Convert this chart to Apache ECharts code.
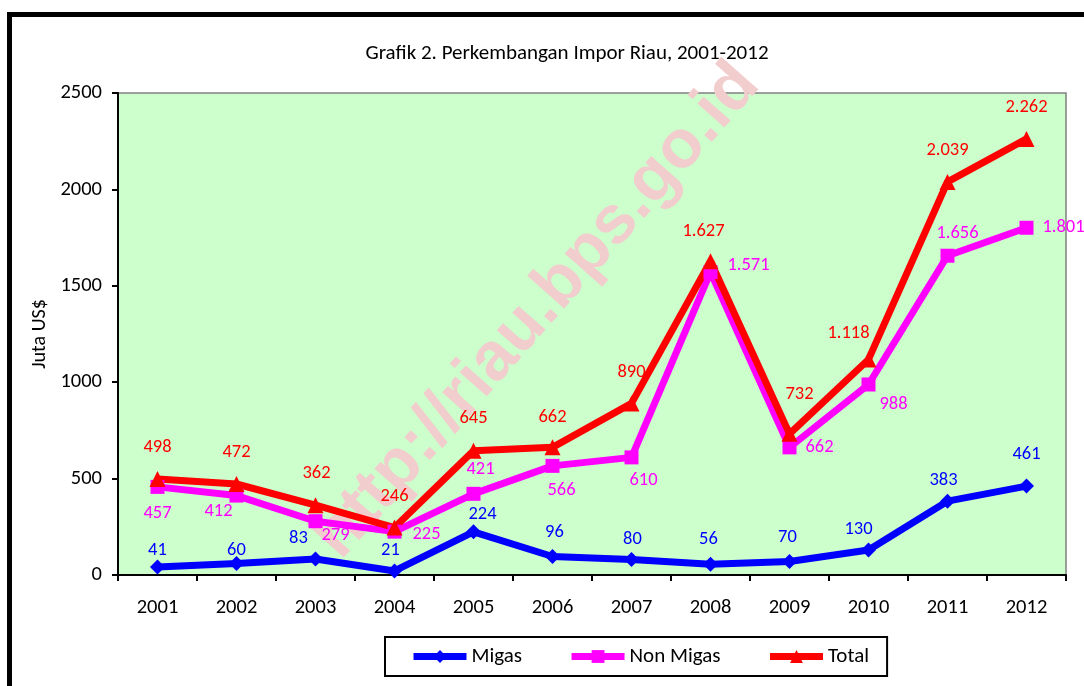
<!DOCTYPE html>
<html>
<head>
<meta charset="utf-8">
<script src="https://cdn.jsdelivr.net/npm/echarts@6/dist/echarts.min.js"></script>
<style>
html,body{margin:0;padding:0;background:#fff;}
#chart{width:1084px;height:686px;}
</style>
</head>
<body>
<div id="chart"></div>
<script>
var categories = ['2001','2002','2003','2004','2005','2006','2007','2008','2009','2010','2011','2012'];
var migas    = [41, 60, 83, 21, 224, 96, 80, 56, 70, 130, 383, 461];
var nonMigas = [457, 412, 279, 225, 421, 566, 610, 1571, 662, 988, 1656, 1801];
var total    = [498, 472, 362, 246, 645, 662, 890, 1627, 732, 1118, 2039, 2262];
var yTicks = [0, 500, 1000, 1500, 2000, 2500];

// label placement (style only)
var migasOff = [[0,-17],[0,-13],[-17,-21],[-4,-21],[9,-17],[2,-24],[1,-20],[-2,-25],[-2,-24],[-10,-21],[-4,-21],[0,-32]];
var nonOff   = [[0,26],[-18,16],[20,14],[32,3],[7,-24],[9,24],[12,23],[38,-7],[30,0],[25,20],[10,-22],[37,0]];
var totOff   = [[0,-32],[0,-32],[1,-32],[0,-31],[0,-32],[0,-30],[0,-31],[-7,-30],[10,-39],[-20,-26],[0,-32],[0,-32]];

var FONT = 'Carlito, Lato, "Open Sans", sans-serif';

function fmt(v){ return String(v).replace(/\B(?=(\d{3})+(?!\d))/g, '.'); }
function items(vals, offs){
  return vals.map(function(v,i){ return {value: v, label: {offset: offs[i]}}; });
}
function mkSeries(name, vals, offs, color, symbol, size){
  return {
    name: name, type: 'line', data: items(vals, offs),
    symbol: symbol, symbolSize: size,
    lineStyle: {color: color, width: 7},
    itemStyle: {color: color},
    label: {show: true, position: 'inside', align: 'center', verticalAlign: 'middle',
      color: color, fontSize: 18.5, fontFamily: FONT,
      formatter: function(p){ return fmt(p.value); }},
    emphasis: {disabled: true},
    animation: false
  };
}

var chart = echarts.init(document.getElementById('chart'), null, {renderer: 'canvas'});
chart.setOption({
  animation: false,
  backgroundColor: '#fff',
  title: {text: 'Grafik 2. Perkembangan Impor Riau, 2001-2012', left: 562, textAlign: 'center', top: 38,
    textStyle: {fontSize: 21, fontWeight: 'normal', color: '#000', fontFamily: FONT}},
  grid: {left: 118, top: 93, right: 18, bottom: 111, show: true, backgroundColor: '#ccffcc',
    borderColor: '#808080', borderWidth: 1.5},
  legend: {left: 385, top: 637, orient: 'horizontal', itemWidth: 53, itemHeight: 16, itemGap: 46,
    borderColor: '#000', borderWidth: 2, padding: [9, 18, 9, 25],
    lineStyle: {width: 7},
    textStyle: {fontSize: 21, color: '#000', fontFamily: FONT},
    data: ['Migas', 'Non Migas', 'Total']},
  xAxis: {type: 'category', data: categories, boundaryGap: true,
    axisLine: {lineStyle: {color: '#000', width: 2}},
    axisTick: {show: true, length: 6, lineStyle: {color: '#000', width: 2}},
    axisLabel: {color: '#000', fontSize: 20.5, margin: 22, fontFamily: FONT},
    splitLine: {show: false}},
  yAxis: {type: 'value', min: yTicks[0], max: yTicks[yTicks.length-1], interval: 500,
    name: 'Juta US$', nameLocation: 'middle', nameGap: 60, nameRotate: 90,
    nameTextStyle: {color: '#000', fontSize: 20, fontFamily: FONT},
    axisLine: {show: true, lineStyle: {color: '#000', width: 2}},
    axisTick: {show: true, length: 6, lineStyle: {color: '#000', width: 2}},
    axisLabel: {color: '#000', fontSize: 20.5, margin: 16, fontFamily: FONT,
      formatter: function(v){ return String(v); }},
    splitLine: {show: false}},
  graphic: [
    {type: 'text', x: 537, y: 311, rotation: 48.5 * Math.PI / 180, z: 1, silent: true,
      style: {text: 'http://riau.bps.go.id', x: 0, y: 0, align: 'center', verticalAlign: 'middle',
        font: 'bold 68px "Liberation Sans", Arial, sans-serif', fill: '#f2cdcd'}},
    {type: 'rect', z: 10, silent: true, shape: {x: 9.5, y: 14.5, width: 1200, height: 800},
      style: {fill: 'none', stroke: '#000', lineWidth: 5}}
  ],
  series: [
    mkSeries('Migas', migas, migasOff, '#0000ff', 'diamond', 15),
    mkSeries('Non Migas', nonMigas, nonOff, '#ff00ff', 'rect', 14),
    mkSeries('Total', total, totOff, '#ff0000', 'triangle', 16)
  ]
});
</script>
</body>
</html>
